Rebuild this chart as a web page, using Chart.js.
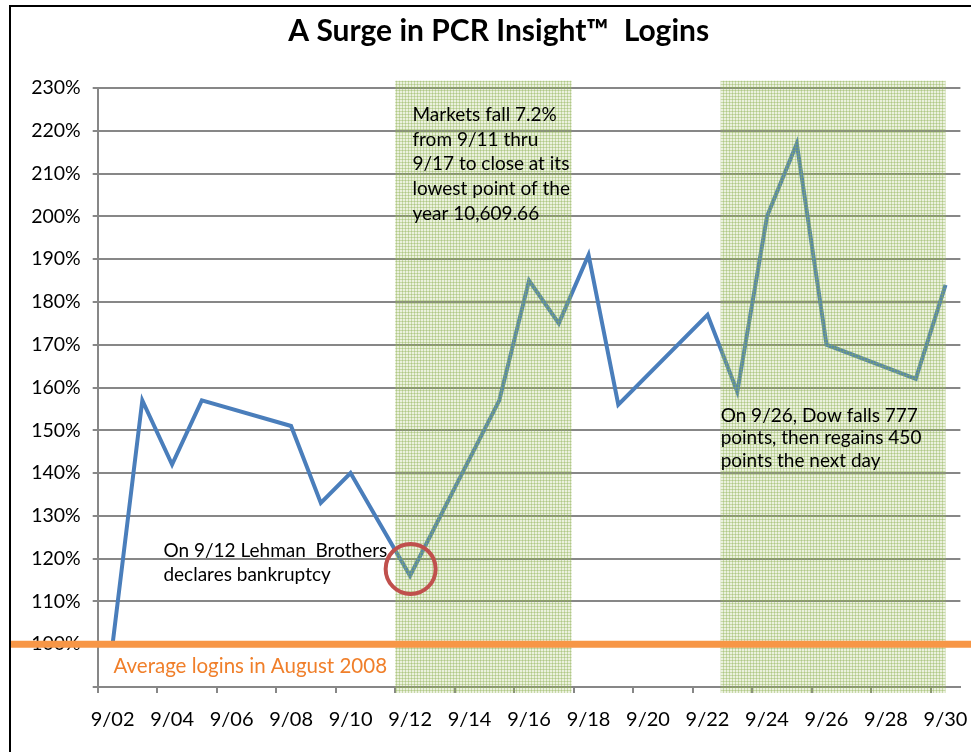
<!DOCTYPE html>
<html>
<head>
<meta charset="utf-8">
<title>A Surge in PCR Insight Logins</title>
<script src="https://cdn.jsdelivr.net/npm/chart.js@4.4.0/dist/chart.umd.min.js"></script>
<style>
  html, body { margin: 0; padding: 0; background: #fff; }
</style>
</head>
<body>
<canvas id="loginsChart" width="971" height="752"></canvas>
<script>
// one category per calendar day, 9/02 .. 9/30 (weekends have no value)
const days = ['9/02','9/03','9/04','9/05','9/06','9/07','9/08','9/09','9/10','9/11',
              '9/12','9/13','9/14','9/15','9/16','9/17','9/18','9/19','9/20','9/21',
              '9/22','9/23','9/24','9/25','9/26','9/27','9/28','9/29','9/30'];
const loginPct = [100, 157, 142, 157, null, null, 151, 133, 140, 128,
                  116, null, null, 157, 185, 175, 191, 156, null, null,
                  177, 159, 200, 217, 170, null, null, 162, 184];
const augustAvg = 100;
const yMin = 90, yMax = 230, yStep = 10;
// shaded market periods, in day-of-month units
const shadeDays = [[11.5, 17.43], [22.44, 30.0]];

const titleText = 'A Surge in PCR Insight\u2122  Logins';
const avgLabel = 'Average logins in August 2008';
const marketNote = ['Markets fall 7.2%', 'from 9/11 thru', '9/17 to close at its', 'lowest point of the', 'year 10,609.66'];
const lehmanNote = ['On 9/12 Lehman  Brothers', 'declares bankruptcy'];
const dowNote = ['On 9/26, Dow falls 777', 'points, then regains 450', 'points the next day'];

const FONT = 'Lato';
const firstDay = 2;
const dayIdx = d => d - firstDay;

function makeShadePattern(ctx) {
    const c = document.createElement('canvas');
    c.width = 3; c.height = 3;
    const p = c.getContext('2d');
    p.fillStyle = 'rgba(155,187,89,0.2)';
    p.fillRect(0, 0, 3, 3);
    p.fillStyle = 'rgba(140,175,80,0.38)';
    p.fillRect(0, 0, 3, 1);
    p.fillRect(0, 0, 1, 3);
    return ctx.createPattern(c, 'repeat');
}

const notes = [
    { lines: marketNote, day: 12.08, pct: 223.7, step: 24.7 },
    { lines: lehmanNote, day: 3.71, pct: 121.8, step: 23.5 },
    { lines: dowNote, day: 22.44, pct: 153.4, step: 22.5 }
];

const overlays = {
    id: 'overlays',
    afterLayout(chart) {
        // title is centred on the frame rather than on the canvas
        chart.titleBlock.left = 37;
    },
    afterDatasetsDraw(chart) {
        const { ctx, scales: { x, y } } = chart;
        ctx.save();
        // shading sits over the line, semi transparent
        ctx.fillStyle = makeShadePattern(ctx);
        shadeDays.forEach(([a, b]) => {
            const x0 = x.getPixelForValue(dayIdx(a));
            const x1 = x.getPixelForValue(dayIdx(b));
            const top = y.getPixelForValue(231.7);
            const bot = y.getPixelForValue(88.6);
            ctx.fillRect(x0, top, x1 - x0, bot - top);
        });

        ctx.fillStyle = '#000';
        ctx.font = '19px ' + FONT;
        ctx.textBaseline = 'middle';
        ctx.textAlign = 'left';
        notes.forEach(n => {
            const px = x.getPixelForValue(dayIdx(n.day));
            const py = y.getPixelForValue(n.pct);
            n.lines.forEach((t, i) => ctx.fillText(t, px, py + i * n.step));
        });

        // circle round the Lehman low
        ctx.strokeStyle = '#c0504d';
        ctx.lineWidth = 4;
        ctx.beginPath();
        ctx.arc(x.getPixelForValue(dayIdx(12.02)), y.getPixelForValue(117.6), 25, 0, Math.PI * 2);
        ctx.stroke();
        ctx.restore();
    },
    afterDraw(chart) {
        const { ctx, scales: { x, y } } = chart;
        ctx.save();
        const ay = y.getPixelForValue(augustAvg);
        ctx.strokeStyle = '#f79646';
        ctx.lineWidth = 7;
        ctx.beginPath();
        ctx.moveTo(10, ay);
        ctx.lineTo(chart.width, ay);
        ctx.stroke();

        ctx.fillStyle = '#f07f2a';
        ctx.font = '20.5px ' + FONT;
        ctx.textBaseline = 'middle';
        ctx.fillText(avgLabel, x.getPixelForValue(dayIdx(2.03)), y.getPixelForValue(94.85));

        // outer frame, runs off the right and bottom edge
        ctx.strokeStyle = '#000';
        ctx.lineWidth = 2;
        ctx.strokeRect(10, 6, chart.width + 20, chart.height + 20);
        ctx.restore();
    }
};

const ctx = document.getElementById('loginsChart').getContext('2d');
const loginsChart = new Chart(ctx, {
    type: 'line',
    data: {
        labels: days,
        datasets: [{
            label: 'Logins vs August average',
            data: loginPct,
            borderColor: '#4a7ebb',
            borderWidth: 4,
            pointRadius: 0,
            tension: 0,
            spanGaps: true,
            borderJoinStyle: 'miter'
        }]
    },
    options: {
        responsive: false,
        animation: false,
        layout: { padding: { left: 0, right: 10.6, top: 0, bottom: 0 } },
        plugins: {
            legend: { display: false },
            tooltip: { enabled: false },
            title: {
                display: true,
                text: titleText,
                color: '#000',
                font: { family: FONT, size: 30, weight: 'bold' },
                padding: { top: 13, bottom: 39 }
            }
        },
        scales: {
            x: {
                type: 'category',
                offset: true,
                afterFit: s => { s.height = 65; s.paddingLeft = 0; s.paddingRight = 0; },
                border: { display: true, color: '#878787', width: 2 },
                grid: {
                    offset: true,
                    drawOnChartArea: false,
                    drawTicks: true,
                    tickLength: 6,
                    lineWidth: 2,
                    color: c => (c.index % 2 === 0 ? '#878787' : 'rgba(0,0,0,0)')
                },
                ticks: {
                    autoSkip: false,
                    maxRotation: 0,
                    padding: 15,
                    color: '#000',
                    font: { family: FONT, size: 20 },
                    callback: (v, i) => (i % 2 === 0 ? days[i] : '')
                }
            },
            y: {
                min: yMin,
                max: yMax,
                afterFit: s => { s.width = 97.7; },
                border: { display: true, color: '#878787', width: 2 },
                grid: {
                    color: '#878787',
                    lineWidth: 2,
                    tickLength: 5
                },
                ticks: {
                    stepSize: yStep,
                    padding: 12,
                    color: '#000',
                    font: { family: FONT, size: 19.5 },
                    callback: v => (v === yMin ? '' : v + '%')
                }
            }
        }
    },
    plugins: [overlays]
});
</script>
</body>
</html>
